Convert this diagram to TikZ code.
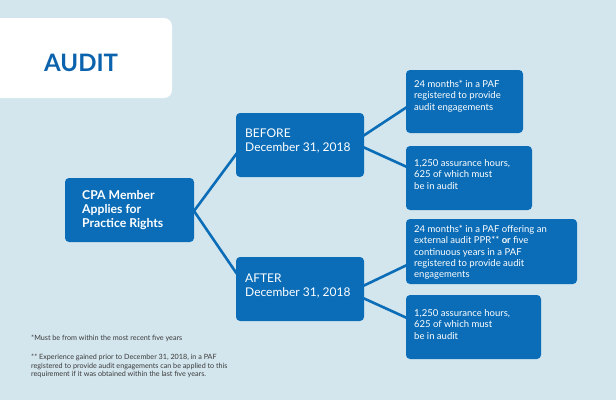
\documentclass[tikz,border=0pt]{standalone}
\usepackage{fontspec}
\setmainfont{Lato}
\definecolor{bg}{HTML}{D3E5ED}
\definecolor{boxb}{HTML}{0B6DB7}
\definecolor{titleb}{HTML}{0B63AD}
\definecolor{foot}{HTML}{3A3A3A}
\begin{document}
\begin{tikzpicture}[x=1pt,y=-1pt,
  bx/.style={fill=boxb,rounded corners=4pt},
  btxt/.style={anchor=north west,text=white,align=left,inner sep=0pt},
  conn/.style={draw=boxb,line width=2.6pt}]
\fill[bg] (0,0) rectangle (616,400);
\useasboundingbox (0,0) rectangle (616,400);
\fill[white,rounded corners=8pt] (-10,18) rectangle (172,98);
\node[anchor=west,text=titleb,font=\fontsize{24}{28}\selectfont\bfseries,inner sep=0pt] (title) at (44,63) {AUDIT};
% boxes
\path[bx] (65,178) rectangle (194,242);
\path[bx] (236,113) rectangle (364,177);
\path[bx] (236,257) rectangle (364,321);
\path[bx] (406,70) rectangle (523,133);
\path[bx] (406,146) rectangle (532,210);
\path[bx] (406,219) rectangle (577,284);
\path[bx] (406,295) rectangle (541,359);
\coordinate (cpaR) at (194,211);
\coordinate (befL) at (237,153);
\coordinate (aftL) at (237,274);
\coordinate (befR1) at (363,136);
\coordinate (befR2) at (363,147);
\coordinate (aftR1) at (363,286);
\coordinate (aftR2) at (363,298);
\coordinate (r1L) at (407,107);
\coordinate (r2L) at (407,167);
\coordinate (r3L) at (407,265);
\coordinate (r4L) at (407,318);
\draw[conn] (cpaR) -- (befL);
\draw[conn] (cpaR) -- (aftL);
\draw[conn] (befR1) -- (r1L);
\draw[conn] (befR2) -- (r2L);
\draw[conn] (aftR1) -- (r3L);
\draw[conn] (aftR2) -- (r4L);
% texts
\node[btxt,font=\fontsize{12.2}{14}\selectfont\bfseries] (cpat) at (82,190) {CPA Member\\Applies for\\Practice Rights};
\node[btxt,font=\fontsize{12}{14}\selectfont] (beft) at (245,129) {BEFORE\\December 31, 2018};
\node[btxt,font=\fontsize{12}{14}\selectfont] (aftt) at (245,274) {AFTER\\December 31, 2018};
\node[btxt,font=\fontsize{9.5}{11.4}\selectfont] (r1t) at (414,80) {24 months* in a PAF\\registered to provide\\audit engagements};
\node[btxt,font=\fontsize{9.5}{11.4}\selectfont] (r2t) at (414,159) {1,250 assurance hours,\\625 of which must\\be in audit};
\node[btxt,font=\fontsize{9.5}{11.4}\selectfont] (r3t) at (414,225) {24 months* in a PAF offering an\\external audit PPR** \textbf{or} five\\continuous years in a PAF\\registered to provide audit\\engagements};
\node[btxt,font=\fontsize{9.5}{11.4}\selectfont] (r4t) at (414,309) {1,250 assurance hours,\\625 of which must\\be in audit};
\node[btxt,text=foot,font=\fontsize{7.2}{8.6}\selectfont] (f1) at (31,335) {*Must be from within the most recent five years};
\node[btxt,text=foot,font=\fontsize{7.2}{8.6}\selectfont] (f2) at (31,354) {** Experience gained prior to December 31, 2018, in a PAF\\registered to provide audit engagements can be applied to this\\requirement if it was obtained within the last five years.};
\end{tikzpicture}
\end{document}
